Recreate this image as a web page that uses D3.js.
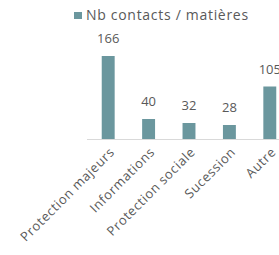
<!DOCTYPE html>
<html>
<head>
<meta charset="utf-8">
<script src="https://cdn.jsdelivr.net/npm/d3@7"></script>
<style>
  body { margin: 0; background: #fff; }
  text { font-family: "Open Sans", sans-serif; fill: #595959; }
</style>
</head>
<body>
<div id="chart"></div>
<script>
// data
let categories = ["Protection majeurs", "Informations", "Protection sociale", "Sucession", "Autre"];
let values = [166, 40, 32, 28, 105];
let seriesName = "Nb contacts / matières";

let width = 279, height = 255;
let barColor = "#6b979e";

let svg = d3.select("#chart").append("svg")
    .attr("width", width)
    .attr("height", height);

// scales
let x = d3.scaleBand()
    .domain(categories)
    .range([88, 290])
    .paddingInner(0.68)
    .paddingOuter(0.34);
let y = d3.scaleLinear()
    .domain([0, 166])
    .range([139, 56]);

// bars
svg.selectAll("rect.bar")
    .data(values)
    .enter().append("rect")
    .attr("class", "bar")
    .attr("x", (d, i) => x(categories[i]))
    .attr("y", d => y(d))
    .attr("width", x.bandwidth())
    .attr("height", d => y(0) - y(d))
    .style("fill", barColor);

// value labels
svg.selectAll("text.val")
    .data(values)
    .enter().append("text")
    .attr("class", "val")
    .attr("x", (d, i) => x(categories[i]) + x.bandwidth() / 2)
    .attr("y", d => y(d) - 13)
    .attr("text-anchor", "middle")
    .style("font-size", "13px")
    .text(d => d);

// x axis
let xAxis = d3.axisBottom(x).tickSize(0).tickPadding(0);
let xg = svg.append("g")
    .attr("transform", `translate(0, ${y(0)})`)
    .call(xAxis);
xg.select(".domain").attr("d", "M87,0.5H279").attr("stroke", "#d9d9d9");
xg.selectAll(".tick text")
    .attr("fill", "#595959")
    .style("font-family", "'Open Sans', sans-serif")
    .style("font-size", "13px")
    .style("letter-spacing", "0.6px")
    .attr("text-anchor", "end")
    .attr("dy", 0)
    .attr("transform", "translate(7, 14) rotate(-45)");

// legend
let legend = svg.append("g").attr("transform", "translate(74, 12)");
legend.append("rect")
    .attr("width", 8).attr("height", 7)
    .style("fill", barColor);
legend.append("text")
    .attr("x", 12).attr("y", 8)
    .style("font-size", "14px")
    .style("letter-spacing", "0.7px")
    .text(seriesName);
</script>
</body>
</html>
